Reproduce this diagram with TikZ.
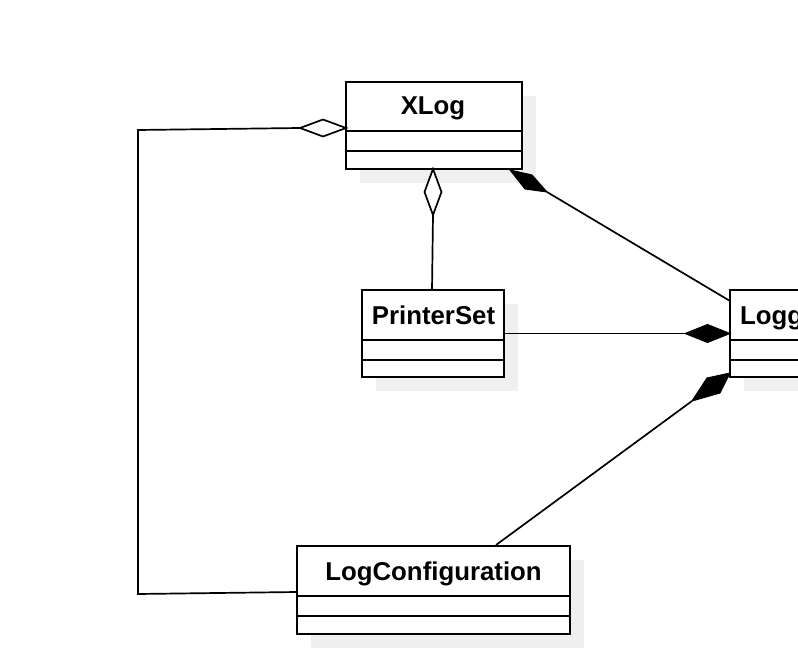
\documentclass[tikz,border=0pt]{standalone}
\usepackage{fontspec}
\setmainfont{Liberation Sans}
\definecolor{shadowgray}{RGB}{239,239,239}
\begin{document}
\begin{tikzpicture}[x=1pt,y=-1pt,
  classbox/.style={draw=black, line width=2pt, fill=white, inner sep=0pt, outer sep=0pt, rectangle},
  shadowbox/.style={fill=shadowgray, draw=none},
  divider/.style={line width=2pt},
  conn/.style={line width=1.7pt, line join=miter},
  hollowdiamond/.style={draw=black, line width=1.7pt, fill=white, line join=miter},
  soliddiamond/.style={draw=black, line width=1pt, fill=black, line join=miter},
  cname/.style={font=\fontsize{25.8}{26}\selectfont\bfseries, anchor=base, inner sep=0pt}]
\useasboundingbox (0,0) rectangle (798,652);
\clip (0,0) rectangle (798,652);

% ---------- shadows ----------
\fill[shadowgray] (360,96) rectangle (536,183);
\fill[shadowgray] (376,304) rectangle (518,391);
\fill[shadowgray] (744,304) rectangle (880,391);
\fill[shadowgray] (311,560) rectangle (584,648);

% ---------- XLog ----------
\node[classbox, minimum width=176pt, minimum height=87pt] (xlog) at (434,125.5) {};
\draw[divider] (346,131.5) -- (522,131.5);
\draw[divider] (346,151.5) -- (522,151.5);
\node[cname] (xlogname) at (433,115) {XLog};

% ---------- PrinterSet ----------
\node[classbox, minimum width=142pt, minimum height=87pt] (printer) at (433,333.5) {};
\draw[divider] (362,340) -- (504,340);
\draw[divider] (362,360) -- (504,360);
\node[cname] (printername) at (433.5,324.5) {PrinterSet};

% ---------- Logger ----------
\node[classbox, minimum width=136pt, minimum height=87pt] (logger) at (798,333.5) {};
\draw[divider] (730,340) -- (866,340);
\draw[divider] (730,360) -- (866,360);
\node[cname, anchor=base west] (loggername) at (740,324.5) {Logger};

% ---------- LogConfiguration ----------
\node[classbox, minimum width=273pt, minimum height=88pt] (logconf) at (433.5,590) {};
\draw[divider] (297,596) -- (570,596);
\draw[divider] (297,616) -- (570,616);
\node[cname] (logconfname) at (433.5,580.5) {LogConfiguration};

% ---------- coordinates ----------
\coordinate (a1) at (346,128);
\coordinate (a2) at (323,119.5);
\coordinate (a3) at (300,128);
\coordinate (a4) at (323,136.5);
\coordinate (c1) at (138,130);
\coordinate (c2) at (138,594);
\coordinate (c3) at (297,592);

\coordinate (b1) at (433,169);
\coordinate (b2) at (441.5,192);
\coordinate (b3) at (433,215);
\coordinate (b4) at (424.5,192);
\coordinate (b5) at (432,290);

\coordinate (d1) at (510,170);
\coordinate (d2) at (532,175);
\coordinate (d3) at (547,192);
\coordinate (d4) at (525,189);
\coordinate (d5) at (730,301);

\coordinate (e0) at (504,333.5);
\coordinate (e1) at (730,333.5);
\coordinate (e2) at (707.5,324.5);
\coordinate (e3) at (685,333.5);
\coordinate (e4) at (707.5,342.5);

\coordinate (f1) at (730,373);
\coordinate (f2) at (707,378);
\coordinate (f3) at (692,401);
\coordinate (f4) at (720,393);
\coordinate (f5) at (496,545);

% ---------- connectors ----------
% XLog <>-- LogConfiguration
\draw[conn] (a3) -- (c1) -- (c2) -- (c3);
\draw[hollowdiamond] (a1) -- (a2) -- (a3) -- (a4) -- cycle;

% XLog <>-- PrinterSet
\draw[conn] (b3) -- (b5);
\draw[hollowdiamond] (b1) -- (b2) -- (b3) -- (b4) -- cycle;

% XLog <*>-- Logger
\draw[conn] (d3) -- (d5);
\draw[soliddiamond] (d1) -- (d2) -- (d3) -- (d4) -- cycle;

% PrinterSet --<*> Logger
\draw[conn] (e0) -- (e3);
\draw[soliddiamond] (e1) -- (e2) -- (e3) -- (e4) -- cycle;

% LogConfiguration --<*> Logger
\draw[conn] (f5) -- (f3);
\draw[soliddiamond] (f1) -- (f2) -- (f3) -- (f4) -- cycle;
\end{tikzpicture}
\end{document}
